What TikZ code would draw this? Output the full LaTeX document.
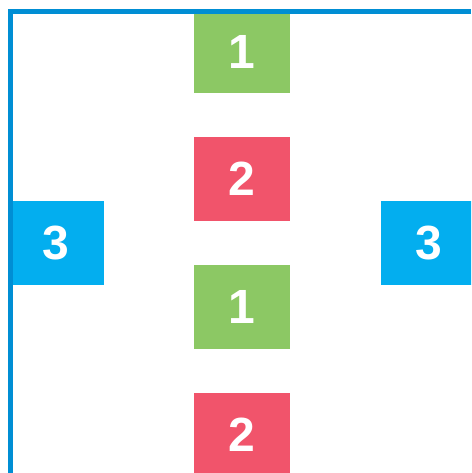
\documentclass[tikz,border=0pt]{standalone}
\usepackage{fontspec}
\setmainfont{Liberation Sans}
\usepackage{tikz}
\usetikzlibrary{positioning}
\definecolor{railblue}{RGB}{0,142,212}
\definecolor{slotone}{RGB}{140,200,100}
\definecolor{slottwo}{RGB}{241,84,107}
\definecolor{slotthree}{RGB}{3,174,239}

\begin{document}
\begin{tikzpicture}[x=1pt, y=-1pt,
  tile/.style={minimum width=96pt, minimum height=84pt, inner sep=0pt,
    text=white, font=\fontsize{48}{48}\selectfont\bfseries},
  railline/.style={line width=5pt, railblue}]
\useasboundingbox (0,0) rectangle (471,473);
\clip (0,0) rectangle (471,473);
%% ---- centre column ----
\node[tile, fill=slotone] (a1) at (242,51.5) {1};
\node[tile, fill=slottwo] (a2) at (242,179) {2};
\node[tile, fill=slotone] (b1) at (242,307) {1};
\node[tile, fill=slottwo] (b2) at (242,435) {2};
%% ---- side tiles ----
\node[tile, fill=slotthree] (l3) at (56,243) {3};
\node[tile, fill=slotthree] (r3) at (429,243) {3};
%% ---- border ----
\draw[railline] (10.5,473) -- (10.5,11.5) -- (471,11.5);
\end{tikzpicture}
\end{document}
